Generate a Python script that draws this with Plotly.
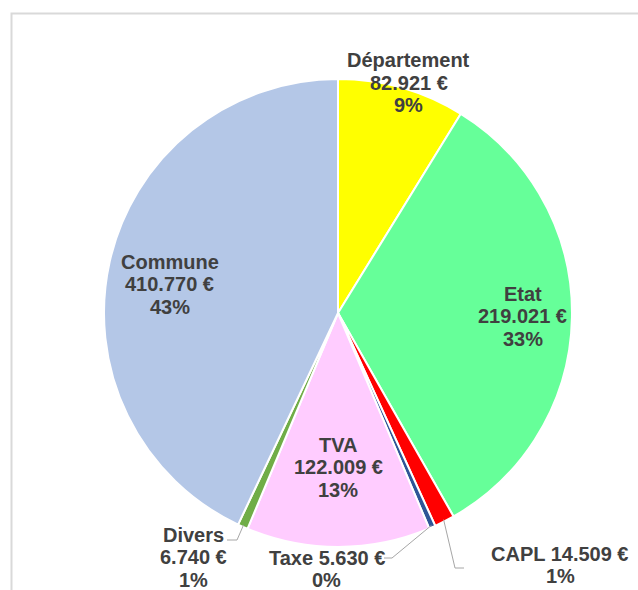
import math
import plotly.graph_objects as go

# ---- data ----
categories = ["Département", "Etat", "CAPL", "Taxe", "TVA", "Divers", "Commune"]
amounts_eur = ["82.921", "219.021", "14.509", "5.630", "122.009", "6.740", "410.770"]
shares = [8.8, 33.0, 1.4, 0.45, 12.7, 0.7, 43.0]          # slice sizes (%)
pct_labels = ["9%", "33%", "1%", "0%", "13%", "1%", "43%"]  # percentages as printed

# ---- style ----
colors = ["#FFFF00", "#66FF99", "#FF0000", "#2F5597", "#FFCCFF", "#70AD47", "#B4C7E7"]
W, H = 638, 590
CX, CY, R = 338, 313, 234
FONT = dict(family="Arial, Liberation Sans, sans-serif", size=20, color="#404040")
LINE_H = 22.5
LINE_COLOR = "#A6A6A6"

# label placement: inside -> (radius factor, angle offset deg); outside -> (text centre px, elbow px, end px)
label_style = {
    "Département": ("in", 1.03, 1.2),
    "Etat": ("in", 0.79, 0),
    "TVA": ("in", 0.66, 0),
    "Commune": ("in", 0.73, -3),
    "CAPL": ("out", (560, 565), (455, 568), (464, 568)),
    "Taxe": ("out", (327, 569), (392, 558), (384, 558)),
    "Divers": ("out", (193, 557), (237, 540), (227, 540)),
}


def px_to_paper(x, y):
    return x / W, 1 - y / H


fig = go.Figure(
    go.Pie(
        labels=categories,
        values=shares,
        sort=False,
        direction="clockwise",
        rotation=0,
        marker=dict(colors=colors, line=dict(color="white", width=2)),
        textinfo="none",
        hoverinfo="label+percent",
        showlegend=False,
        domain=dict(
            x=[(CX - R) / W, (CX + R) / W],
            y=[1 - (CY + R) / H, 1 - (CY - R) / H],
        ),
    )
)

total = sum(shares)
cum = 0.0
annotations = []
shapes = [
    dict(type="rect", xref="paper", yref="paper",
         x0=11.5 / W, x1=1.2, y0=1 - 13.5 / H, y1=-0.2,
         line=dict(color="#D9D9D9", width=2), fillcolor="rgba(0,0,0,0)", layer="below"),
]
for name, amt, share, pct in zip(categories, amounts_eur, shares, pct_labels):
    mid = (cum + share / 2) / total * 360.0
    cum += share
    st = label_style[name]
    if st[0] == "in":
        ang = math.radians(mid + st[2])
        r = R * st[1]
        x, y = CX + r * math.sin(ang), CY - r * math.cos(ang)
        lines = [name, f"{amt} €", pct]
    else:
        x, y = st[1]
        if name == "Divers":
            lines = [name, f"{amt} €", pct]
        else:
            lines = [f"{name} {amt} €", pct]
        ang = math.radians(mid)
        ex, ey = CX + (R - 2) * math.sin(ang), CY - (R - 2) * math.cos(ang)
        (bx, by), (tx, ty) = st[2], st[3]
        p = [px_to_paper(ex, ey), px_to_paper(bx, by), px_to_paper(tx, ty)]
        shapes.append(dict(type="path", xref="paper", yref="paper",
                           path=f"M {p[0][0]} {p[0][1]} L {p[1][0]} {p[1][1]} L {p[2][0]} {p[2][1]}",
                           line=dict(color=LINE_COLOR, width=1)))
    n = len(lines)
    for i, line in enumerate(lines):
        ly = y + (i - (n - 1) / 2) * LINE_H
        xp, yp = px_to_paper(x, ly)
        annotations.append(dict(x=xp, y=yp, xref="paper", yref="paper", text=f"<b>{line}</b>",
                                showarrow=False, xanchor="center", yanchor="middle",
                                font=FONT, align="center", borderpad=0))

fig.update_layout(
    width=W, height=H,
    margin=dict(l=0, r=0, t=0, b=0),
    paper_bgcolor="white",
    plot_bgcolor="white",
    annotations=annotations,
    shapes=shapes,
)

fig.write_html("out.html", config={"displayModeBar": False},
               post_script="document.body.style.margin='0';")
